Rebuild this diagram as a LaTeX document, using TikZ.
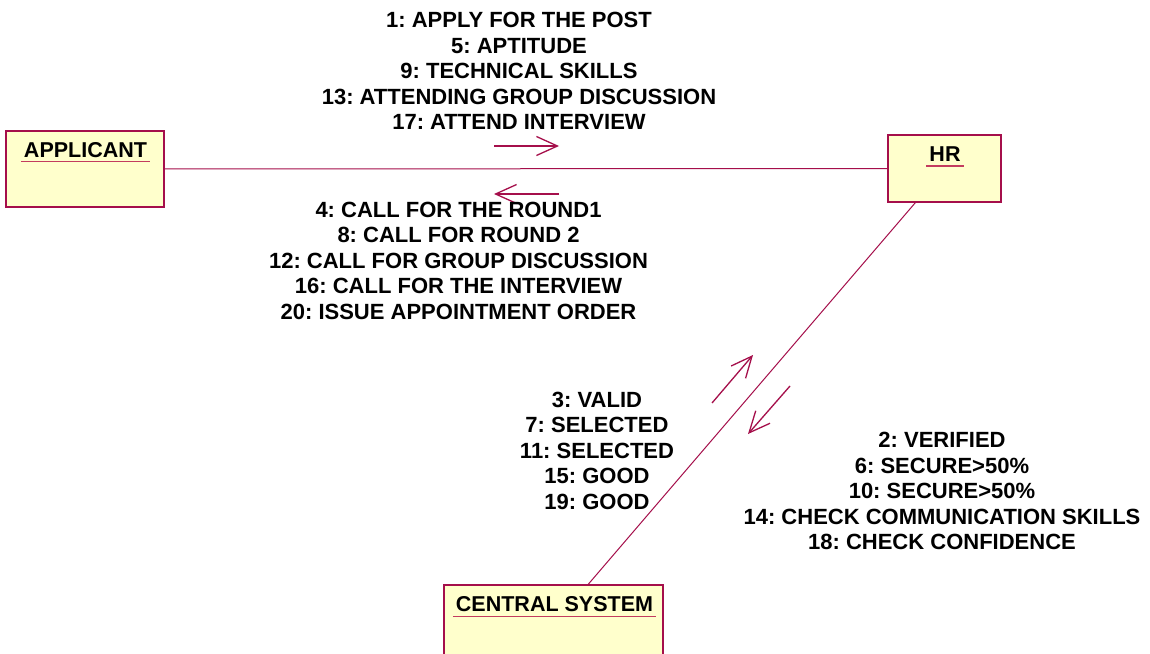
\documentclass[tikz,border=0pt]{standalone}
\usepackage{fontspec}
\setmainfont{Liberation Sans}
\usetikzlibrary{arrows.meta}
\definecolor{umlline}{RGB}{165,15,75}
\definecolor{umlfill}{RGB}{255,255,204}
\definecolor{umlunder}{RGB}{195,60,95}
\tikzset{
  objbox/.style={draw=umlline, line width=1.1pt, fill=umlfill, inner sep=0pt},
  objtitle/.style={font=\frenchspacing\fontsize{21.5}{25.5}\selectfont\bfseries, inner xsep=3pt, inner ysep=3pt},
  underln/.style={draw=umlunder, line width=1.3pt},
  link/.style={draw=umlline, line width=1pt},
  msg/.style={draw=umlline, line width=1.3pt, -{Straight Barb[length=21pt, width=19pt, line width=1.3pt]}},
  msglabel/.style={font=\frenchspacing\fontsize{22}{25.5}\selectfont\bfseries, align=center, inner sep=0pt}
}
\begin{document}
\begin{tikzpicture}[x=1pt,y=-1pt]
\clip (0,0) rectangle (1150,653);
\fill[white] (0,0) rectangle (1150,653);

% objects
\node[objbox, minimum width=158pt, minimum height=76pt] (app) at (85,169) {};
\node[objbox, minimum width=113pt, minimum height=67pt] (hr) at (944.5,168.5) {};
\node[objbox, minimum width=219pt, minimum height=80pt] (cs) at (553.5,625) {};

% titles
\node[objtitle] (appt) at (85.5,150) {APPLICANT};
\node[objtitle] (hrt) at (945,154.5) {HR};
\node[objtitle] (cst) at (554.5,604.5) {CENTRAL SYSTEM};
\draw[underln] ([yshift=-1pt]appt.south west) -- ([yshift=-1pt]appt.south east);
\draw[underln] ([yshift=-1pt]hrt.south west) -- ([yshift=-1pt]hrt.south east);
\draw[underln] ([yshift=-1pt]cst.south west) -- ([yshift=-1pt]cst.south east);

% links
\draw[link] (app) -- (hr);
\draw[link] (hr) -- (cs);

% message arrows
\coordinate (m1s) at (494,146); \coordinate (m1e) at (559,146);
\coordinate (m2s) at (559,194); \coordinate (m2e) at (494,194);
\coordinate (m3s) at (712,403); \coordinate (m3e) at (753,355);
\coordinate (m4s) at (790,386); \coordinate (m4e) at (748,434);
\draw[msg] (m1s) -- (m1e);
\draw[msg] (m2s) -- (m2e);
\draw[msg] (m3s) -- (m3e);
\draw[msg] (m4s) -- (m4e);

% message labels
\node[msglabel] (lab1) at (519,71) {1: APPLY FOR THE POST\\5: APTITUDE\\9: TECHNICAL SKILLS\\13: ATTENDING GROUP DISCUSSION\\17: ATTEND INTERVIEW};
\node[msglabel] (lab2) at (458.5,260.5) {4: CALL FOR THE ROUND1\\8: CALL FOR ROUND 2\\12: CALL FOR GROUP DISCUSSION\\16: CALL FOR THE INTERVIEW\\20: ISSUE APPOINTMENT ORDER};
\node[msglabel] (lab3) at (597,450.5) {3: VALID\\7: SELECTED\\11: SELECTED\\15: GOOD\\19: GOOD};
\node[msglabel] (lab4) at (942,491) {2: VERIFIED\\6: SECURE>50\%\\10: SECURE>50\%\\14: CHECK COMMUNICATION SKILLS\\18: CHECK CONFIDENCE};
\end{tikzpicture}
\end{document}
